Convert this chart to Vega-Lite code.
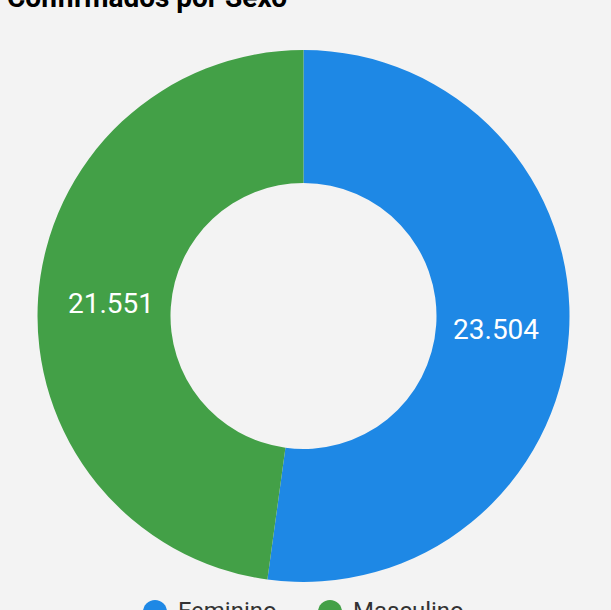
{
  "$schema": "https://vega.github.io/schema/vega-lite/v6.json",
  "width": 607,
  "height": 632,
  "autosize": {"type": "none"},
  "padding": {"left": 0, "top": 0, "right": 4, "bottom": 0},
  "background": "#f3f3f3",
  "title": {
    "text": "Confirmados por Sexo",
    "anchor": "start",
    "frame": "group",
    "font": "Roboto",
    "fontSize": 28,
    "fontWeight": "bold",
    "color": "#000000",
    "baseline": "alphabetic",
    "offset": 0,
    "dy": 35,
    "dx": 7
  },
  "data": {
    "values": [
      {"sexo": "Feminino", "casos": 23504},
      {"sexo": "Masculino", "casos": 21551}
    ]
  },
  "encoding": {
    "theta": {"field": "casos", "type": "quantitative", "stack": true},
    "order": {"field": "sexo", "sort": "ascending"},
    "color": {
      "field": "sexo",
      "type": "nominal",
      "scale": {"domain": ["Feminino", "Masculino"], "range": ["#1e88e5", "#43a047"]},
      "legend": {
        "title": null,
        "orient": "none",
        "direction": "horizontal",
        "legendX": 143,
        "legendY": 600,
        "symbolType": "circle",
        "symbolSize": 576,
        "symbolStrokeWidth": 0,
        "labelFont": "Roboto",
        "labelFontSize": 24,
        "labelColor": "#333333",
        "labelOffset": 11,
        "columnPadding": 41
      }
    }
  },
  "layer": [
    {"mark": {"type": "arc", "outerRadius": 266, "innerRadius": 133}},
    {
      "mark": {"type": "text", "radius": 193, "dy": 2, "font": "Roboto", "fontSize": 28},
      "encoding": {
        "text": {"field": "casos", "type": "quantitative", "format": ",.0f"},
        "color": {"value": "#ffffff"}
      }
    }
  ],
  "config": {
    "view": {"stroke": null},
    "locale": {"number": {"decimal": ",", "thousands": ".", "grouping": [3], "currency": ["R$", ""]}}
  }
}
